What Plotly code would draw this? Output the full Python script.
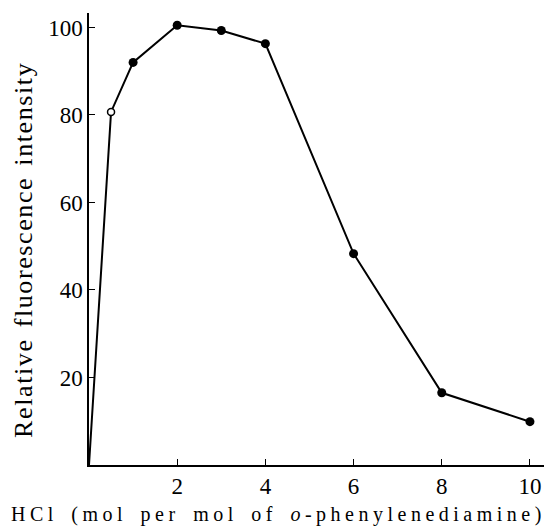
import plotly.graph_objects as go

hcl = [0, 0.5, 1, 2, 3, 4, 6, 8, 10]
intensity = [0, 80.7, 92, 100.5, 99.3, 96.3, 48.3, 16.5, 9.9]
open_x = [0.5]
open_y = [80.7]
filled_x = [1, 2, 3, 4, 6, 8, 10]
filled_y = [92, 100.5, 99.3, 96.3, 48.3, 16.5, 9.9]
x_ticks = [2, 4, 6, 8, 10]
y_ticks = [20, 40, 60, 80, 100]

FONT = "Liberation Serif, Times New Roman, DejaVu Serif, serif"

fig = go.Figure()
fig.add_trace(go.Scatter(x=hcl, y=intensity, mode="lines",
                         line=dict(color="black", width=2), showlegend=False))
fig.add_trace(go.Scatter(x=filled_x, y=filled_y, mode="markers",
                         marker=dict(color="black", size=9), showlegend=False))
fig.add_trace(go.Scatter(x=open_x, y=open_y, mode="markers",
                         marker=dict(color="white", size=7, line=dict(color="black", width=1.5)),
                         showlegend=False))

fig.update_layout(
    width=552, height=531,
    margin=dict(l=81, r=8, t=5, b=74),
    paper_bgcolor="white", plot_bgcolor="white",
    font=dict(family=FONT, color="black", size=22),
    xaxis=dict(range=[0, 10.5], tickvals=x_ticks, ticktext=[str(v) for v in x_ticks],
               ticks="inside", ticklen=6, tickwidth=1.2, tickcolor="black",
               showline=True, linecolor="black", linewidth=1.5,
               showgrid=False, zeroline=False, tickfont=dict(size=23, family=FONT)),
    yaxis=dict(range=[0, 103.3], tickvals=y_ticks, ticktext=[str(v) for v in y_ticks],
               ticks="inside", ticklen=6, tickwidth=1.2, tickcolor="black",
               showline=True, linecolor="black", linewidth=1.5,
               showgrid=False, zeroline=False, tickfont=dict(size=23, family=FONT)),
    annotations=[
        dict(text='<span style="letter-spacing:4.5px;word-spacing:4px">HCl (mol per mol of <i>o</i>-phenylenediamine)</span>',
             xref="paper", yref="paper", x=0.410, y=-0.1095,
             showarrow=False, xanchor="center", yanchor="middle",
             font=dict(size=20, family=FONT)),
        dict(text='<span style="letter-spacing:1.6px;word-spacing:3px">Relative fluorescence intensity</span>',
             xref="paper", yref="paper", x=-0.1415, y=0.477, textangle=-90,
             showarrow=False, xanchor="center", yanchor="middle",
             font=dict(size=26, family=FONT)),
    ],
)

fig.write_html("out.html")
